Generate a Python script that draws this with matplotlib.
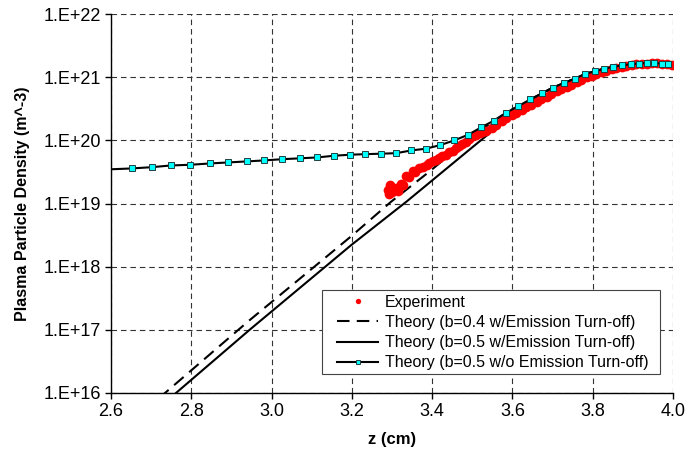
import numpy as np
import matplotlib
matplotlib.use('Agg')
import matplotlib.pyplot as plt
from matplotlib.patches import Rectangle

plt.rcParams['font.family'] = ['Liberation Sans', 'DejaVu Sans']

# ---- data (z in cm, density as log10 of m^-3) ----
exp_z = [3.290, 3.293, 3.296, 3.301, 3.306, 3.311, 3.316, 3.323, 3.328, 3.336,
         3.343, 3.352, 3.358, 3.368, 3.376, 3.386, 3.393, 3.402, 3.410, 3.418,
         3.425, 3.435, 3.443, 3.452, 3.460, 3.468, 3.475, 3.485, 3.493, 3.502,
         3.510, 3.518, 3.525, 3.535, 3.548, 3.560, 3.573, 3.585, 3.598, 3.610,
         3.623, 3.635, 3.647, 3.660, 3.672, 3.685, 3.697, 3.710, 3.722, 3.735,
         3.747, 3.760, 3.772, 3.785, 3.797, 3.809, 3.822, 3.834, 3.847, 3.859,
         3.872, 3.884, 3.897, 3.909, 3.922, 3.934, 3.947, 3.959, 3.972, 3.984, 3.997]
exp_log = [19.217, 19.159, 19.286, 19.190, 19.238, 19.243, 19.206, 19.317, 19.286, 19.429,
           19.413, 19.508, 19.492, 19.560, 19.571, 19.614, 19.635, 19.667, 19.690, 19.719,
           19.746, 19.773, 19.810, 19.837, 19.873, 19.905, 19.937, 19.973, 20.016, 20.063,
           20.090, 20.110, 20.130, 20.150, 20.200, 20.250, 20.300, 20.350, 20.395, 20.437,
           20.483, 20.525, 20.567, 20.610, 20.650, 20.695, 20.740, 20.780, 20.810, 20.850,
           20.885, 20.920, 20.960, 21.000, 21.025, 21.050, 21.080, 21.105, 21.125, 21.145,
           21.165, 21.180, 21.195, 21.205, 21.210, 21.214, 21.222, 21.222, 21.214, 21.206, 21.198]

b04_z = [2.720, 2.941, 3.198, 3.298, 3.394, 3.490, 3.554, 3.585, 3.615, 3.645,
         3.674, 3.701, 3.729, 3.756, 3.781, 3.806, 3.829, 3.851, 3.874, 3.895,
         3.915, 3.936, 3.953, 3.972, 3.988]
b04_log = [15.92, 17.13, 18.48, 19.03, 19.51, 20.02, 20.31, 20.44, 20.544, 20.651,
           20.746, 20.837, 20.910, 20.979, 21.052, 21.095, 21.138, 21.163, 21.190, 21.206,
           21.217, 21.227, 21.222, 21.217, 21.206]

b05_z = [2.740, 2.949, 3.198, 3.336, 3.498, 3.598, 3.645, 3.674, 3.701, 3.729,
         3.756, 3.781, 3.806, 3.829, 3.851, 3.874, 3.895, 3.915, 3.936, 3.953,
         3.972, 3.988]
b05_log = [15.88, 17.02, 18.34, 19.03, 19.88, 20.40, 20.63, 20.746, 20.837, 20.910,
           20.979, 21.052, 21.095, 21.138, 21.163, 21.190, 21.206, 21.217, 21.227, 21.222,
           21.217, 21.206]

nto_z = [2.590, 2.652, 2.702, 2.749, 2.798, 2.847, 2.892, 2.938, 2.982, 3.026,
         3.070, 3.113, 3.156, 3.195, 3.233, 3.272, 3.311, 3.348, 3.384, 3.420,
         3.455, 3.490, 3.522, 3.554, 3.585, 3.615, 3.645, 3.674, 3.701, 3.729,
         3.756, 3.781, 3.806, 3.829, 3.851, 3.874, 3.895, 3.915, 3.936, 3.953,
         3.972, 3.988]
nto_log = [19.540, 19.556, 19.576, 19.603, 19.614, 19.635, 19.651, 19.667, 19.683, 19.702,
           19.716, 19.730, 19.757, 19.773, 19.782, 19.789, 19.798, 19.841, 19.868, 19.925,
           20.000, 20.090, 20.206, 20.313, 20.440, 20.544, 20.651, 20.746, 20.837, 20.910,
           20.979, 21.052, 21.095, 21.138, 21.163, 21.190, 21.206, 21.217, 21.227, 21.222,
           21.217, 21.206]

labels = ['Experiment',
          'Theory (b=0.4 w/Emission Turn-off)',
          'Theory (b=0.5 w/Emission Turn-off)',
          'Theory (b=0.5 w/o Emission Turn-off)']

x_ticks = [2.6, 2.8, 3.0, 3.2, 3.4, 3.6, 3.8, 4.0]
y_exps = [16, 17, 18, 19, 20, 21, 22]
y_ticklabels = ['1.E+16', '1.E+17', '1.E+18', '1.E+19', '1.E+20', '1.E+21', '1.E+22']

fig = plt.figure(figsize=(6.85, 4.55), dpi=100)
ax = fig.add_axes([0.162, 0.1363, 0.8205, 0.8327])

ax.plot(exp_z, 10 ** np.array(exp_log), linestyle='none', marker='o', ms=7,
        mfc='#ff0000', mec='#ff0000', mew=0, label=labels[0], zorder=4)
ax.plot(b04_z, 10 ** np.array(b04_log), color='black', lw=1.5, dashes=(6, 3.5),
        label=labels[1], zorder=3)
ax.plot(b05_z, 10 ** np.array(b05_log), color='black', lw=1.5,
        label=labels[2], zorder=3)
ax.plot(nto_z, 10 ** np.array(nto_log), color='black', lw=1.5, marker='s', ms=4,
        mfc='#00ffff', mec='#1f3f3f', mew=0.7, markevery=range(1, len(nto_z)),
        label=labels[3], zorder=5)

ax.set_yscale('log')
ax.set_xlim(2.6, 4.0)
ax.set_ylim(1e16, 1e22)
ax.set_xticks(x_ticks)
ax.set_xticklabels(['%.1f' % v for v in x_ticks])
ax.set_yticks([10.0 ** e for e in y_exps])
ax.set_yticklabels(y_ticklabels)
ax.yaxis.set_minor_locator(matplotlib.ticker.NullLocator())

ax.grid(True, color='#333333', lw=0.8, dashes=(5, 3.5))
ax.set_axisbelow(True)
for s in ['top', 'right']:
    ax.spines[s].set_visible(False)
for s in ['left', 'bottom']:
    ax.spines[s].set_linewidth(1.0)
    ax.spines[s].set_color('black')
ax.tick_params(direction='out', length=4, width=1, labelsize=13, pad=3)

ax.set_xlabel('z (cm)', fontsize=12, fontweight='bold', labelpad=9)
ax.set_ylabel('Plasma Particle Density (m^-3)', fontsize=11.5, fontweight='bold', labelpad=10)

# legend box drawn separately so it can be wider than tall padding allows
ax.add_patch(Rectangle((0.3754, 0.0501), 0.6015, 0.2217, transform=ax.transAxes,
                       facecolor='white', edgecolor='#444444', lw=0.8, zorder=6))
leg = ax.legend(loc='upper left', bbox_to_anchor=(0.4021, 0.2595), borderaxespad=0,
                fontsize=11.5, frameon=False, labelspacing=0.33, markerscale=0.55,
                handlelength=2.6, handletextpad=0.4, borderpad=0)
leg.set_zorder(7)

fig.savefig('out.png', dpi=100, facecolor='white')
